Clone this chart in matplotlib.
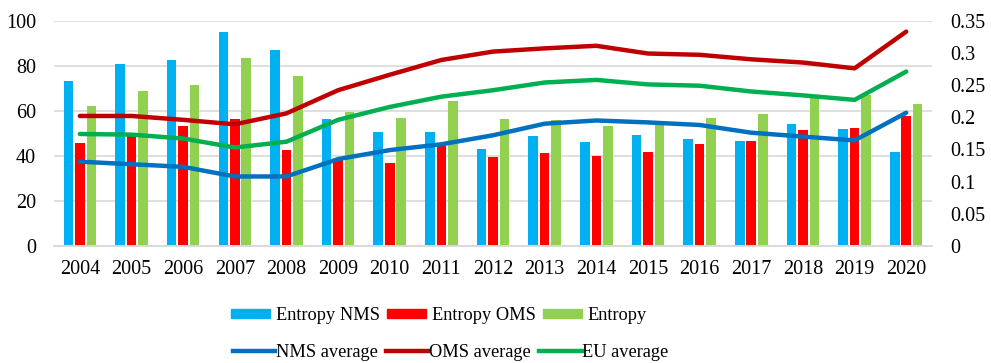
import numpy as np
import matplotlib.pyplot as plt
from matplotlib.patches import Patch
from matplotlib.lines import Line2D

plt.rcParams['font.family'] = ['Liberation Serif', 'DejaVu Serif']

years = [str(y) for y in range(2004, 2021)]

# bar values (left axis)
entropy_nms = [73.2, 80.6, 82.6, 94.8, 87.0, 56.5, 50.6, 50.6, 42.9, 48.8,
               46.3, 49.3, 47.5, 46.6, 54.1, 51.9, 41.7]
entropy_oms = [45.6, 49.0, 53.3, 56.4, 42.5, 38.0, 37.0, 45.0, 39.4, 41.1,
               40.1, 41.9, 45.3, 46.6, 51.5, 52.2, 57.8]
entropy_eu = [62.3, 68.7, 71.5, 83.6, 75.3, 59.5, 56.8, 64.4, 56.2, 55.9,
              53.4, 53.7, 56.9, 58.7, 66.3, 66.8, 62.9]

# line values (right axis)
nms_avg = [0.131, 0.127, 0.123, 0.108, 0.108, 0.135, 0.149, 0.158, 0.172, 0.190,
           0.195, 0.192, 0.188, 0.176, 0.170, 0.164, 0.207]
oms_avg = [0.202, 0.202, 0.196, 0.189, 0.206, 0.242, 0.266, 0.289, 0.302, 0.307,
           0.311, 0.299, 0.297, 0.290, 0.285, 0.276, 0.333]
eu_avg = [0.174, 0.173, 0.167, 0.153, 0.162, 0.196, 0.216, 0.232, 0.242, 0.254,
          0.258, 0.251, 0.249, 0.240, 0.234, 0.227, 0.271]

c_nms_bar, c_oms_bar, c_eu_bar = '#00B0F0', '#FF0000', '#92D050'
c_nms_line, c_oms_line, c_eu_line = '#0070C0', '#C00000', '#00B050'

fs = 14.5
lfs = 13.2
x = np.arange(len(years))
w = 0.185
off = 0.222

fig = plt.figure(figsize=(9.91, 3.63), dpi=100)
ax = fig.add_axes([0.0545, 0.3223, 0.886, 0.6207])
ax2 = ax.twinx()

ax.bar(x - off, entropy_nms, w, color=c_nms_bar, zorder=2)
ax.bar(x, entropy_oms, w, color=c_oms_bar, zorder=2)
ax.bar(x + off, entropy_eu, w, color=c_eu_bar, zorder=2)

lw = 3.2
ax2.plot(x, nms_avg, color=c_nms_line, lw=lw, solid_capstyle='round')
ax2.plot(x, oms_avg, color=c_oms_line, lw=lw, solid_capstyle='round')
ax2.plot(x, eu_avg, color=c_eu_line, lw=lw, solid_capstyle='round')

ax.set_xlim(-0.5, len(years) - 0.5)
ax.set_ylim(0, 100)
ax.set_yticks(range(0, 101, 20))
ax2.set_ylim(0, 0.35)
ax2.set_yticks([0, 0.05, 0.1, 0.15, 0.2, 0.25, 0.3, 0.35])
ax2.set_yticklabels(['0', '0.05', '0.1', '0.15', '0.2', '0.25', '0.3', '0.35'])
ax.set_xticks(x)
ax.set_xticklabels(years)

ax.grid(axis='y', color='#D9D9D9', lw=1.2, zorder=0)
ax.set_axisbelow(True)
for a in (ax, ax2):
    for s in ('top', 'left', 'right'):
        a.spines[s].set_visible(False)
    a.spines['bottom'].set_color('#D9D9D9')
    a.spines['bottom'].set_linewidth(1.2)
ax.tick_params(axis='both', length=0, labelsize=fs, colors='#000000')
ax.tick_params(axis='y', pad=13)
ax.tick_params(axis='x', pad=10)
ax2.tick_params(axis='y', length=0, labelsize=fs, pad=13)

bar_handles = [Patch(color=c_nms_bar), Patch(color=c_oms_bar), Patch(color=c_eu_bar)]
fig.legend(bar_handles, ['Entropy NMS', 'Entropy OMS', 'Entropy'],
           loc='center', bbox_to_anchor=(0.443, 0.131), ncol=3, frameon=False,
           fontsize=lfs, handlelength=2.13, handleheight=0.35, handletextpad=0.3,
           columnspacing=0.4, borderpad=0)
line_handles = [Line2D([], [], color=c_nms_line, lw=lw),
                Line2D([], [], color=c_oms_line, lw=lw),
                Line2D([], [], color=c_eu_line, lw=lw)]
fig.legend(line_handles, ['NMS average', 'OMS average', 'EU average'],
           loc='center', bbox_to_anchor=(0.455, 0.028), ncol=3, frameon=False,
           fontsize=lfs, handlelength=2.3, handletextpad=0.05,
           columnspacing=0.45, borderpad=0)

fig.savefig('out.png', dpi=100)
